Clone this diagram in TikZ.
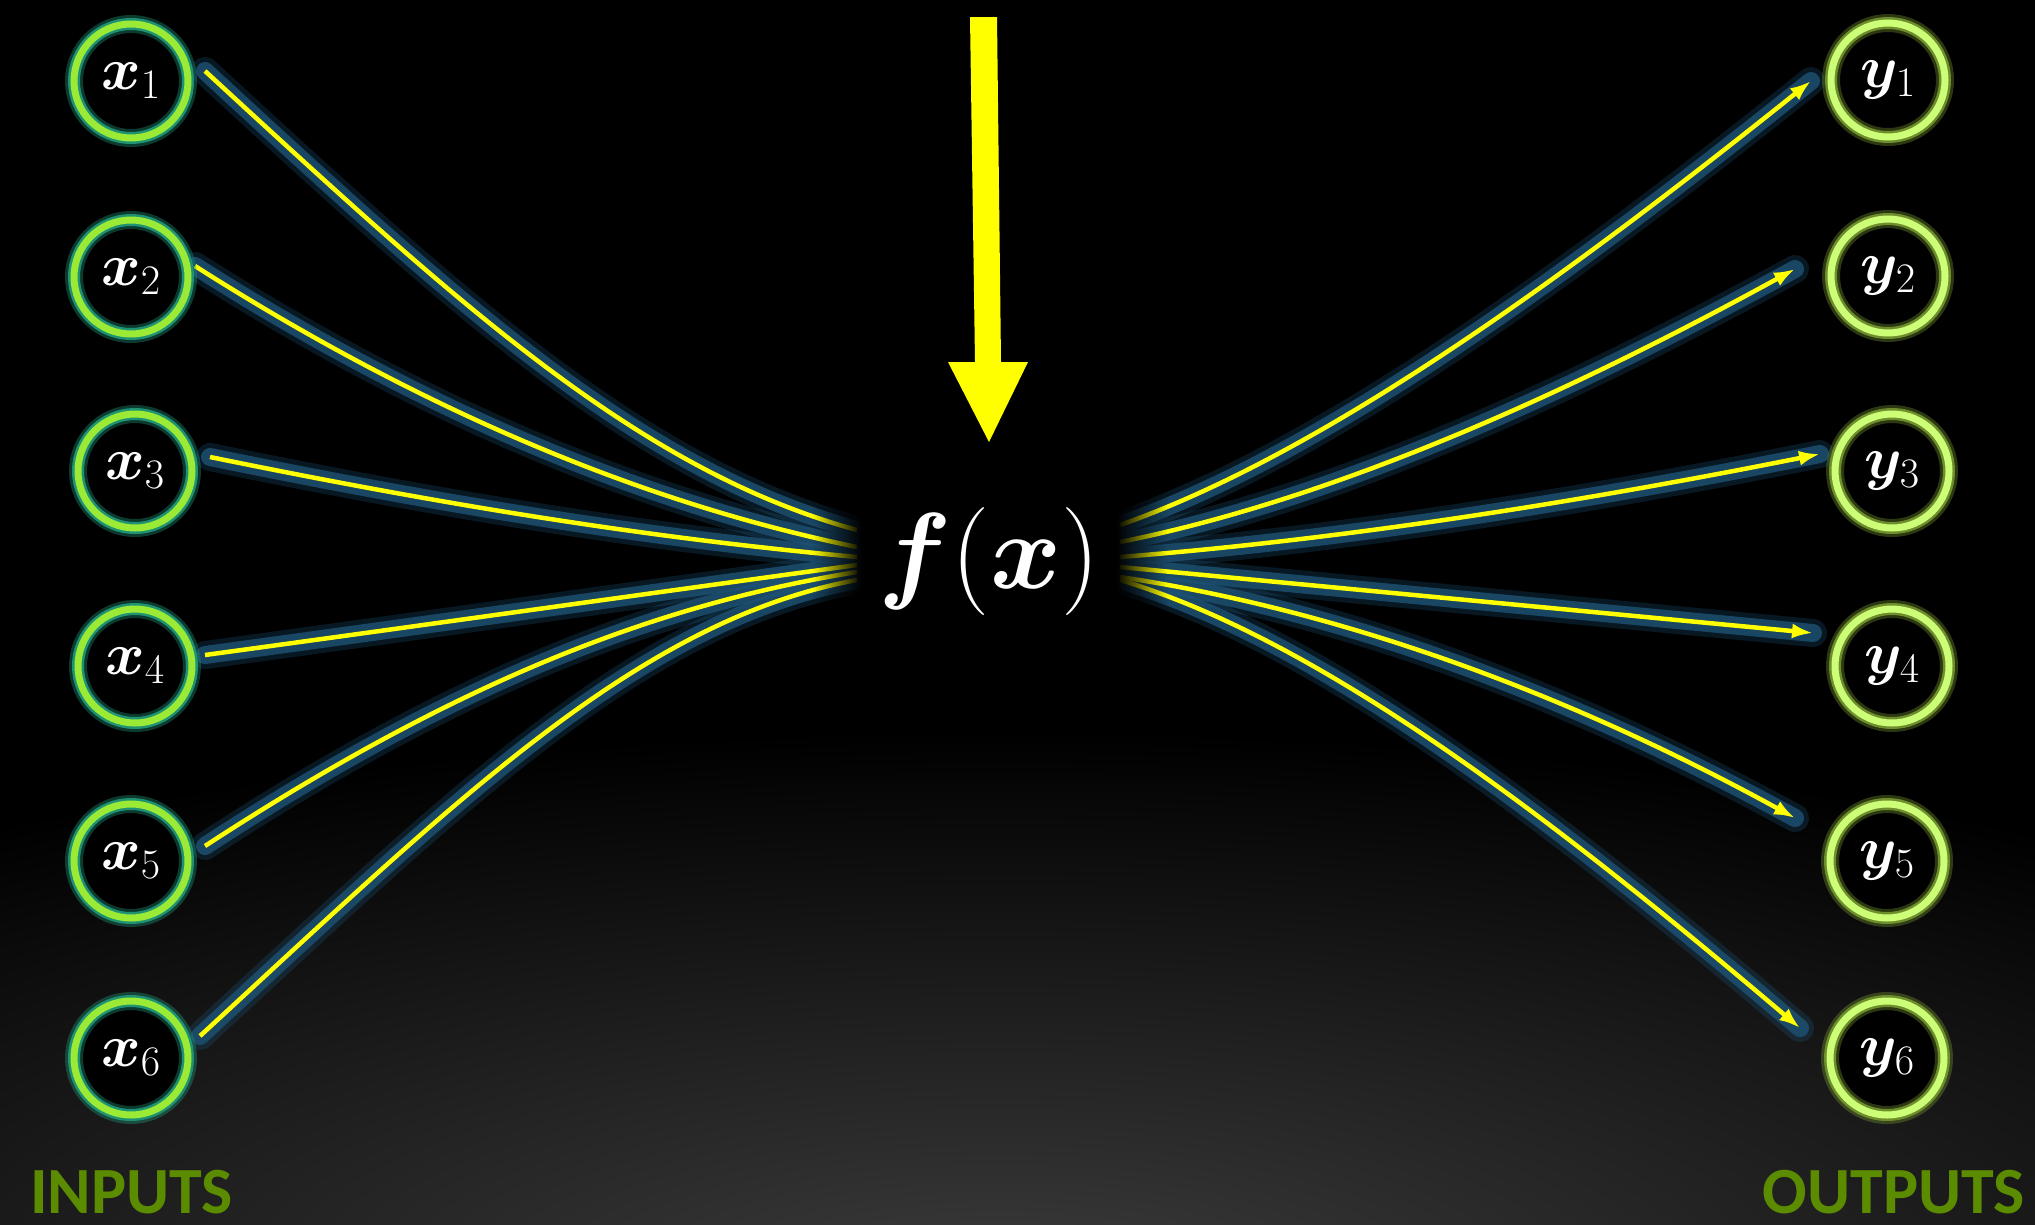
\RequirePackage{fix-cm}
\documentclass[tikz,border=0pt]{standalone}
\usepackage{fontspec}
\usepackage{bm}
\usetikzlibrary{arrows.meta,fadings}
\newfontfamily\labelfont{Carlito}
\definecolor{inring}{HTML}{9BEA35}
\definecolor{inglow}{HTML}{1F9274}
\definecolor{outring}{HTML}{CCFF77}
\definecolor{outglow}{HTML}{6E8E2C}
\definecolor{glowblue}{HTML}{1D5274}
\definecolor{labgreen}{HTML}{5B8C00}
\definecolor{wire}{HTML}{FFFF00}
\definecolor{bgglow}{HTML}{3C3C3C}
\tikzfading[name=fadetoright, left color=transparent!100, right color=transparent!0]
\tikzfading[name=fadetoleft, left color=transparent!0, right color=transparent!100]
\newcommand\leftwires[1]{%
  \draw[#1] (a1) .. controls +(250,230) and +(-220,-60) .. (b1);
  \draw[#1] (a2) .. controls +(220,140) and +(-220,-45) .. (b2);
  \draw[#1] (a3) .. controls +(220,45) and +(-220,-20) .. (b3);
  \draw[#1] (a4) .. controls +(220,-30) and +(-220,30) .. (b4);
  \draw[#1] (a5) .. controls +(230,-150) and +(-220,35) .. (b5);
  \draw[#1] (a6) .. controls +(250,-230) and +(-220,40) .. (b6);}
\newcommand\rightwires[1]{%
  \draw[#1] (c1) .. controls +(200,-70) and +(-250,200) .. (d1);
  \draw[#1] (c2) .. controls +(200,-40) and +(-250,137) .. (d2);
  \draw[#1] (c3) .. controls +(230,-18) and +(-230,46) .. (d3);
  \draw[#1] (c4) .. controls +(230,22) and +(-230,-22) .. (d4);
  \draw[#1] (c5) .. controls +(200,30) and +(-250,-137) .. (d5);
  \draw[#1] (c6) .. controls +(200,60) and +(-250,-212) .. (d6);}
\begin{document}
\begin{tikzpicture}[x=1pt,y=-1pt,
  varnode/.style={circle, minimum size=114pt, inner sep=0pt, text=white,
    font=\fontsize{60}{64}\selectfont, preaction={fill=black}},
  innode/.style={varnode, preaction={draw=inglow, line width=18pt, opacity=.4},
    preaction={draw=inglow, line width=12pt}, draw=inring, line width=7pt},
  outnode/.style={varnode, preaction={draw=outglow, line width=18pt, opacity=.4},
    preaction={draw=outglow, line width=12pt}, draw=outring, line width=7pt},
  glowwide/.style={draw=glowblue, line width=28pt, opacity=.3, line cap=round},
  glownarrow/.style={draw=glowblue, line width=18pt, opacity=.8, line cap=round},
  wireline/.style={draw=wire, line width=4.5pt},
  tip/.style={-{Latex[length=21pt,width=15pt]}},
  biglabel/.style={inner sep=0pt, text=labgreen, font=\labelfont\bfseries\fontsize{66}{68}\selectfont}]
\useasboundingbox (0,0) rectangle (2035,1224);
% background
\fill[black] (0,0) rectangle (2035,1224);
\begin{scope}
  \clip (0,0) rectangle (2035,1224);
  \shade[inner color=bgglow, outer color=black] (1000,1290) ellipse [x radius=1800pt, y radius=560pt];
\end{scope}
% wire end points
\coordinate (a1) at (205,71);   \coordinate (b1) at (857,530);
\coordinate (a2) at (195,266);  \coordinate (b2) at (857,547);
\coordinate (a3) at (210,457);  \coordinate (b3) at (857,557);
\coordinate (a4) at (205,655);  \coordinate (b4) at (857,565);
\coordinate (a5) at (205,846);  \coordinate (b5) at (857,572);
\coordinate (a6) at (200,1036); \coordinate (b6) at (857,580);
\coordinate (c1) at (1120,525); \coordinate (d1) at (1811,81);
\coordinate (c2) at (1120,542); \coordinate (d2) at (1795,269);
\coordinate (c3) at (1120,557); \coordinate (d3) at (1820,454);
\coordinate (c4) at (1120,567); \coordinate (d4) at (1813,633);
\coordinate (c5) at (1120,577); \coordinate (d5) at (1795,818);
\coordinate (c6) at (1120,580); \coordinate (d6) at (1800,1028);
% wires
\leftwires{glowwide}
\rightwires{glowwide}
\leftwires{glownarrow}
\rightwires{glownarrow}
\leftwires{wireline}
\rightwires{wireline,tip}
% fading near the function
\fill[black, path fading=fadetoright] (812,480) rectangle (862,630);
\fill[black] (861,480) rectangle (880,630);
\fill[black] (1100,480) rectangle (1117,635);
\fill[black, path fading=fadetoleft] (1116,480) rectangle (1168,635);
% big arrow
\fill[wire] (970,17) -- (997,17) -- (1001,362) -- (1028,362) -- (989,442)
  -- (948,362) -- (975,362) -- cycle;
% function
\node[inner sep=0pt, text=white, font=\fontsize{108}{112}\selectfont] (f) at (989,561) {$\bm{f}(\bm{x})$};
% inputs
\node[innode] (x1) at (131,81) {$\bm{x}_1$};
\node[innode] (x2) at (131,277) {$\bm{x}_2$};
\node[innode] (x3) at (135,471) {$\bm{x}_3$};
\node[innode] (x4) at (135,666) {$\bm{x}_4$};
\node[innode] (x5) at (131,861) {$\bm{x}_5$};
\node[innode] (x6) at (131,1058) {$\bm{x}_6$};
% outputs
\node[outnode] (y1) at (1888,80) {$\bm{y}_1$};
\node[outnode] (y2) at (1888,276) {$\bm{y}_2$};
\node[outnode] (y3) at (1892,471) {$\bm{y}_3$};
\node[outnode] (y4) at (1892,666) {$\bm{y}_4$};
\node[outnode] (y5) at (1887,861) {$\bm{y}_5$};
\node[outnode] (y6) at (1887,1058) {$\bm{y}_6$};
% labels
\node[biglabel, anchor=base west] (inlabel) at (30,1213) {INPUTS};
\node[biglabel, anchor=base east] (outlabel) at (2025,1213) {OUTPUTS};
\end{tikzpicture}
\end{document}
